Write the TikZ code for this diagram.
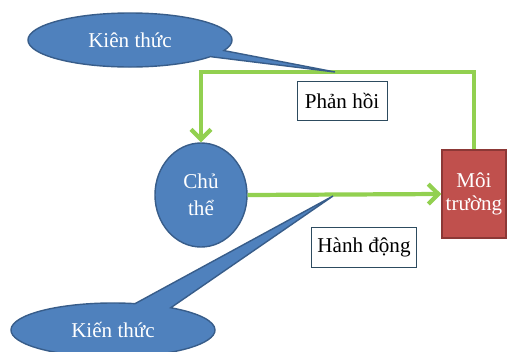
\documentclass[tikz,border=0pt]{standalone}
\usepackage{fontspec}
\setmainfont{Liberation Serif}
\usepackage{xcolor}
\usetikzlibrary{arrows.meta,shapes,positioning}
\definecolor{ktblue}{RGB}{79,129,189}
\definecolor{ktborder}{RGB}{56,93,138}
\definecolor{mtred}{RGB}{192,80,77}
\definecolor{mtborder}{RGB}{140,56,54}
\definecolor{flowgreen}{RGB}{146,208,80}
\definecolor{lblborder}{RGB}{45,75,95}
\tikzset{
  all/.style  = {align=center, font=\fontsize{15}{19}\selectfont},
  basic/.style  = {all, draw, line width=1pt, inner sep=0pt},
  knowledge/.style = {basic, ellipse callout, fill=ktblue, draw=ktborder, text=white,
    minimum width=5.1cm, minimum height=1.35cm},
  agent/.style = {basic, ellipse, fill=ktblue, draw=ktborder, text=white,
    minimum width=2.3cm, minimum height=2.6cm},
  world/.style = {basic, rectangle, fill=mtred, draw=mtborder, text=white,
    minimum width=1.6cm, minimum height=2.2cm, font=\fontsize{15}{16}\selectfont},
  label/.style = {all, thin, draw=lblborder, rectangle, fill=white},
  flow/.style = {draw=flowgreen, line width=3pt, -{Straight Barb[length=2.5mm,width=5mm]}}
}
\begin{document}
\begin{tikzpicture}[x=0.025cm, y=-0.025cm]
\useasboundingbox (0,0) rectangle (508,351);
% agent and environment
\node[agent] (chu) at (201,195) {Chủ\\thể};
\node[world] (moi) at (474,194) {Môi\\trường};
% labels of the two loops
\node[label, minimum width=2.25cm, minimum height=0.975cm] (phanhoi) at (342,101) {Phản hồi};
\node[label, minimum width=2.625cm, minimum height=1cm] (hanhdong) at (364,247) {Hành động};
% feedback and action
\coordinate (top) at (340,72);
\draw[flow] (moi.north) |- (top) -| (chu.north);
\draw[flow] (chu.east) -- (moi.west);
% knowledge callouts
\node[knowledge, callout absolute pointer={(335,72)}] (kt1) at (130,40) {Kiên thức};
\node[knowledge, callout pointer arc=22, callout absolute pointer={(333,196)}] (kt2) at (113,330) {Kiến thức};
\end{tikzpicture}
\end{document}
